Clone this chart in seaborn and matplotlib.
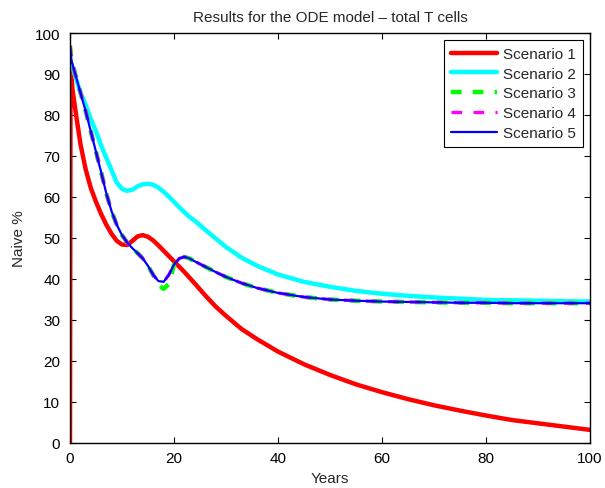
import matplotlib
matplotlib.use("Agg")
import matplotlib.pyplot as plt
import seaborn as sns
import pandas as pd

# ---- data ----
years_red = [0, 0.1, 0.5, 1, 2, 3, 4, 5, 6, 7, 8, 9, 10, 11, 12, 13, 14, 15, 16, 17, 18, 19,
             20, 21, 22, 23, 24, 26, 28, 30, 33, 36, 40, 45, 50, 55, 60, 65, 70, 75, 80, 85,
             90, 95, 100]
scenario1 = [0, 92, 86, 81.5, 73, 66.8, 62.2, 58.8, 55.8, 53.2, 51.0, 49.3, 48.4, 48.3, 49.3,
             50.4, 50.7, 50.3, 49.4, 48.2, 46.9, 45.6, 44.3, 43, 41.7, 40.3, 38.9, 36, 33.3, 31,
             27.8, 25.3, 22.3, 19.2, 16.6, 14.3, 12.4, 10.7, 9.2, 7.9, 6.7, 5.6, 4.8, 4.0, 3.2]

years = [0, 0.3, 1, 2, 3, 4, 5, 6, 7, 8, 9, 10, 11, 12, 13, 14, 15, 16, 17, 18, 19,
         20, 21, 22, 23, 24, 26, 28, 30, 33, 36, 40, 45, 50, 55, 60, 65, 70, 75, 80, 85,
         90, 95, 100]
scenario2 = [93.5, 92.3, 89.5, 85.5, 82.5, 79, 76, 72.5, 69.5, 66.5, 63.5, 62, 61.5, 61.8,
             62.6, 63.1, 63.2, 63, 62.3, 61.3, 60.1, 58.8, 57.5, 56.3, 55.1, 54.2, 52, 49.9,
             47.8, 45.2, 43.2, 41.1, 39.3, 38.1, 37.1, 36.4, 35.9, 35.5, 35.2, 34.9, 34.8,
             34.7, 34.6, 34.5]
scenario5 = [96.9, 93.2, 90, 85.5, 81, 76, 71, 66, 60.8, 56.5, 53.2, 50.7, 48.9, 47.5, 46.3,
             45, 43.2, 41, 39.5, 39.3, 41, 43.5, 45, 45.4, 45, 44.3, 43, 41.7, 40.5, 39, 37.8,
             36.6, 35.6, 35.0, 34.7, 34.5, 34.4, 34.3, 34.2, 34.2, 34.1, 34.1, 34.1, 34.1]
scenario4 = [96.9, 93.2, 90, 85.5, 81, 76, 71, 66, 60.8, 56.5, 53.2, 50.7, 48.9, 47.5, 46.3,
             45, 43.2, 41, 39.5, 39.3, 41, 43.5, 45, 45.4, 45, 44.3, 43, 41.7, 40.5, 39, 37.8,
             36.6, 35.6, 35.0, 34.7, 34.5, 34.4, 34.3, 34.2, 34.2, 34.1, 34.1, 34.1, 34.1]
scenario3 = [96.9, 93.2, 90, 85.5, 81, 76, 71, 66, 60.8, 56.5, 53.2, 50.7, 48.9, 47.5, 46.3,
             45, 43.2, 41, 38.6, 37.6, 38.8, 43.5, 45, 45.4, 45, 44.3, 43, 41.7, 40.5, 39, 37.8,
             36.6, 35.6, 35.0, 34.7, 34.5, 34.4, 34.3, 34.2, 34.2, 34.1, 34.1, 34.1, 34.1]

labels = ["Scenario 1", "Scenario 2", "Scenario 3", "Scenario 4", "Scenario 5"]
xticks = [0, 20, 40, 60, 80, 100]
yticks = [0, 10, 20, 30, 40, 50, 60, 70, 80, 90, 100]

sns.set_style("ticks")
plt.rcParams["font.family"] = ["Liberation Sans", "DejaVu Sans"]
plt.rcParams["xtick.direction"] = "in"
plt.rcParams["ytick.direction"] = "in"

fig = plt.figure(figsize=(6.05, 4.89), dpi=100)
ax = fig.add_axes([70 / 605, 1 - 444 / 489, 520 / 605, 410 / 489])

series = [
    (years_red, scenario1, "#ff0000", 3.2, "-"),
    (years, scenario2, "#00ffff", 3.2, "-"),
    (years, scenario3, "#00ff00", 3.2, (0, (2.4, 2.5))),
    (years, scenario4, "#ff00ff", 2.4, (0, (3.2, 3.4))),
    (years, scenario5, "#0000ff", 1.6, "-"),
]
for (xs, ys, col, lw, ls), lab in zip(series, labels):
    df = pd.DataFrame({"Years": xs, "Naive": ys})
    sns.lineplot(data=df, x="Years", y="Naive", ax=ax, color=col, linewidth=lw,
                 linestyle=ls, label=lab, sort=False, estimator=None)

ax.set_xlim(0, 100)
ax.set_ylim(0, 100)
ax.set_xticks(xticks)
ax.set_yticks(yticks)
ax.tick_params(top=True, right=True, labelsize=11, length=4, width=0.8, colors="black")
ax.tick_params(axis="y", pad=7)
ax.tick_params(axis="x", pad=6)
for s in ax.spines.values():
    s.set_visible(True)
    s.set_color("black")
    s.set_linewidth(1.0)

ax.set_xlabel("Years", fontsize=11, labelpad=4)
ax.set_ylabel("Naive %", fontsize=11, labelpad=6)
ax.set_title("Results for the ODE model – total T cells", fontsize=11, pad=9)

leg = ax.legend(loc="upper right", bbox_to_anchor=((583 - 70) / 520, (444 - 41) / 410),
                borderaxespad=0, fontsize=11, handlelength=3.0, labelspacing=0.38,
                fancybox=False, framealpha=1, edgecolor="black", borderpad=0.45,
                handletextpad=0.4)
leg.get_frame().set_linewidth(0.8)

fig.savefig("out.png", dpi=100)
